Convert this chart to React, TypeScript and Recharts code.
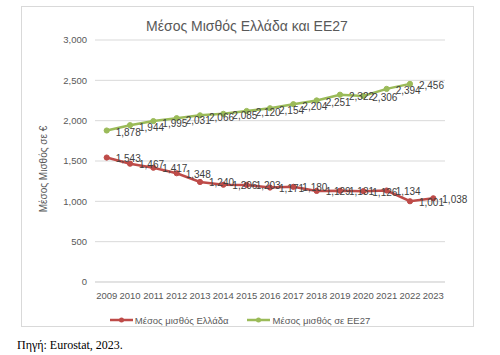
import React from 'react';
import { LineChart, Line, XAxis, YAxis, CartesianGrid, Legend, LabelList } from 'recharts';

const years = ['2009','2010','2011','2012','2013','2014','2015','2016','2017','2018','2019','2020','2021','2022','2023'];
const greece = [1543, 1467, 1417, 1348, 1240, 1206, 1203, 1171, 1180, 1129, 1131, 1126, 1134, 1001, 1038];
const eu27 = [1878, 1944, 1995, 2031, 2066, 2085, 2120, 2154, 2204, 2251, 2322, 2306, 2394, 2456];
const yTicks = [0, 500, 1000, 1500, 2000, 2500, 3000];

const GREECE_NAME = 'Μέσος μισθός Ελλάδα';
const EU_NAME = 'Μέσος μισθός σε ΕΕ27';
const TITLE = 'Μέσος Μισθός Ελλάδα και ΕΕ27';
const Y_LABEL = 'Μέσος Μισθός σε €';
const SOURCE = 'Πηγή: Eurostat, 2023.';

const data = years.map((y, i) => ({
  year: y,
  gr: greece[i],
  eu: i < eu27.length ? eu27[i] : null,
}));

const RED = '#BE4B48';
const GREEN = '#9BBB59';
const FONT = '"Liberation Sans", Arial, sans-serif';
const fmt = (v: number) => v.toLocaleString('en-US');

const makeLabel = (dy: number) => (props: any) => {
  const { x, y, value } = props;
  if (value == null) return null;
  return (
    <text x={x + 9} y={y + dy} fontSize={10} fill="#404040" fontFamily={FONT} dominantBaseline="central">
      {fmt(value)}
    </text>
  );
};

const LegendContent = (props: any) => {
  const items = props.payload || [];
  return (
    <div style={{ display: 'flex', justifyContent: 'center', height: 14, alignItems: 'center', fontFamily: FONT, fontSize: 9.5, color: '#595959' }}>
      {items.map((it: any, i: number) => (
        <div key={i} style={{ display: 'flex', alignItems: 'center', marginLeft: i ? 19 : 0 }}>
          <svg width={23} height={10} style={{ marginRight: 2 }}>
            <line x1={0} y1={5} x2={23} y2={5} stroke={it.color} strokeWidth={2.5} />
            <circle cx={11.5} cy={5} r={2.5} fill={it.color} />
          </svg>
          <span>{it.value}</span>
        </div>
      ))}
    </div>
  );
};

const YLabel = (props: any) => {
  const { viewBox } = props;
  const cx = viewBox.x + 8;
  const cy = viewBox.y + viewBox.height / 2 + 8;
  return (
    <text x={cx} y={cy} transform={`rotate(-90, ${cx}, ${cy})`} textAnchor="middle" dominantBaseline="central" fontSize={10} fill="#595959" fontFamily={FONT}>
      {Y_LABEL}
    </text>
  );
};

export default function App() {
  return (
    <div style={{ position: 'absolute', left: 0, top: 0, width: 500, height: 355, background: '#fff' }}>
      <div style={{ position: 'absolute', left: 21, top: 6, width: 451, height: 319, border: '1px solid #d9d9d9' }} />
      <div style={{ position: 'absolute', left: 0, top: 16, width: 494, textAlign: 'center', fontFamily: FONT, fontSize: 14, color: '#595959', lineHeight: '20px' }}>
        {TITLE}
      </div>
      <div style={{ position: 'absolute', left: 0, top: 0 }}>
        <LineChart width={500} height={334} data={data} margin={{ top: 40, right: 55, left: 35, bottom: 7 }}>
          <CartesianGrid vertical={false} stroke="#d9d9d9" />
          <XAxis dataKey="year" padding={{ left: 11.7, right: 11.7 }} tickLine={false} stroke="#d9d9d9" tickMargin={4} height={31}
            tick={{ fontSize: 9.5, fill: '#595959', fontFamily: FONT }} interval={0} />
          <YAxis domain={[0, 3000]} ticks={yTicks} width={60} axisLine={false} tickLine={false} tickFormatter={fmt}
            tick={{ fontSize: 9.5, fill: '#595959', fontFamily: FONT }} label={<YLabel />} />
          <Legend verticalAlign="bottom" content={<LegendContent />} />
          <Line dataKey="gr" name={GREECE_NAME} stroke={RED} strokeWidth={2.5} dot={{ r: 2.6, fill: RED, stroke: RED, strokeWidth: 1 }} isAnimationActive={false}>
            <LabelList dataKey="gr" content={makeLabel(1)} />
          </Line>
          <Line dataKey="eu" name={EU_NAME} stroke={GREEN} strokeWidth={2.5} dot={{ r: 2.6, fill: GREEN, stroke: GREEN, strokeWidth: 1 }} isAnimationActive={false}>
            <LabelList dataKey="eu" content={makeLabel(2)} />
          </Line>
        </LineChart>
      </div>
      <div style={{ position: 'absolute', left: 17, top: 337, fontFamily: '"Liberation Serif", "Times New Roman", serif', fontSize: 12, color: '#000', lineHeight: '16px' }}>
        {SOURCE}
      </div>
    </div>
  );
}
